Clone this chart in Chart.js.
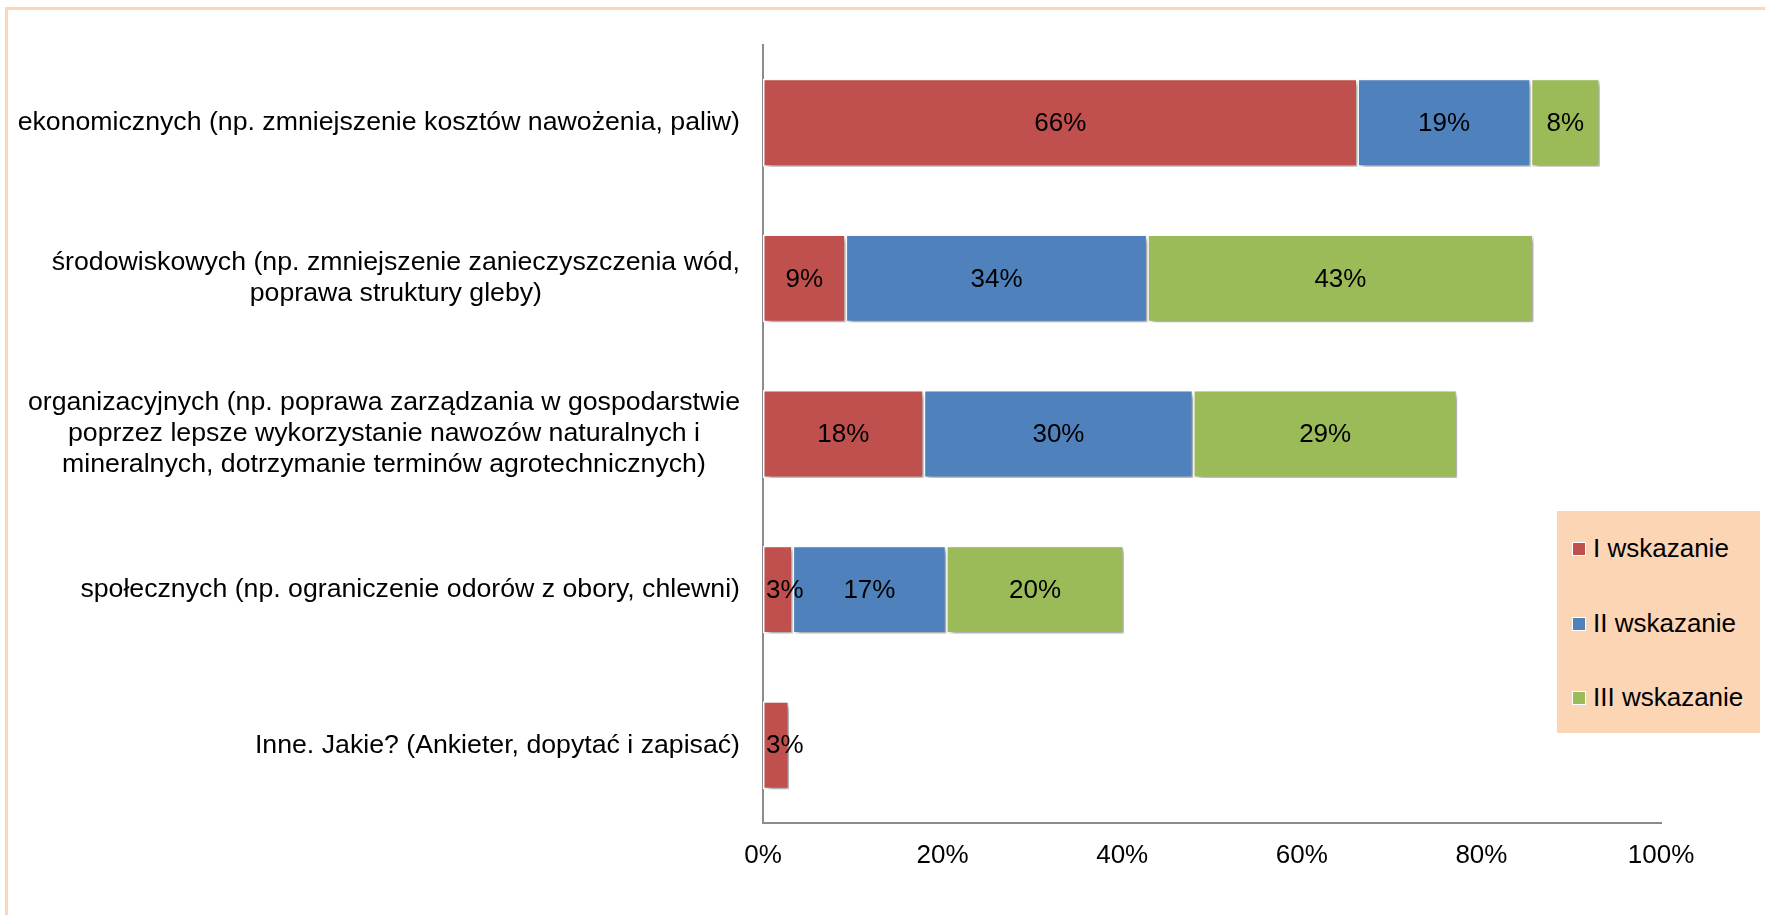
<!DOCTYPE html>
<html>
<head>
<meta charset="utf-8">
<script src="https://cdn.jsdelivr.net/npm/chart.js@4.4.1/dist/chart.umd.min.js"></script>
<style>
  html, body { margin: 0; padding: 0; background: #ffffff; }
  body { width: 1765px; height: 915px; overflow: hidden; position: relative; font-family: 'Liberation Sans', Arial, sans-serif; }
  #frame { position: absolute; left: 5px; top: 7px; width: 1800px; height: 1000px; border-left: 3px solid #fbd6ba; border-top: 3px solid #fbd6ba; }
  #wrap { position: absolute; left: 0; top: 0; width: 1765px; height: 915px; }
  #legend { position: absolute; left: 1557px; top: 511px; width: 203px; height: 222px; background: #fcd5b5; }
  #legend .item { position: absolute; left: 15px; height: 30px; line-height: 30px; font-size: 26px; color: #000; white-space: nowrap; }
  #legend .box { display: inline-block; width: 12px; height: 12px; border: 1px solid #fff; margin-right: 7px; vertical-align: 1px; }
</style>
</head>
<body>
<div id="frame"></div>
<div id="wrap"><canvas id="chart" width="1765" height="915"></canvas></div>
<div id="legend"></div>
<script>
const categories = [
  'ekonomicznych (np. zmniejszenie kosztów nawożenia, paliw)',
  ['środowiskowych (np. zmniejszenie zanieczyszczenia wód,', 'poprawa struktury gleby)'],
  ['organizacyjnych (np. poprawa zarządzania w gospodarstwie', 'poprzez lepsze wykorzystanie nawozów naturalnych i', 'mineralnych, dotrzymanie terminów agrotechnicznych)'],
  'społecznych (np. ograniczenie odorów z obory, chlewni)',
  'Inne. Jakie? (Ankieter, dopytać i zapisać)'
];

const seriesNames = ['I wskazanie', 'II wskazanie', 'III wskazanie'];
const seriesColors = ['#c0504d', '#4f81bd', '#9bbb59'];

const firstChoice = [66.2, 9.2, 17.9, 3.3, 2.9];
const secondChoice = [19.3, 33.6, 30.0, 17.1, null];
const thirdChoice = [7.7, 43.0, 29.4, 19.8, null];

const xTickLabels = ['0%', '20%', '40%', '60%', '80%', '100%'];

const FONT = "26px 'Liberation Sans', Arial, sans-serif";
const CAT_FONT = "26.7px 'Liberation Sans', Arial, sans-serif";

// drop shadow under the bars, like the Excel original
const barShadow = {
  id: 'barShadow',
  beforeDatasetsDraw(chart) {
    const ctx = chart.ctx;
    ctx.save();
    ctx.shadowColor = 'rgba(0,0,0,0.4)';
    ctx.shadowBlur = 5;
    ctx.shadowOffsetX = 3;
    ctx.shadowOffsetY = 3;
  },
  afterDatasetsDraw(chart) {
    chart.ctx.restore();
  }
};

const valueLabels = {
  id: 'valueLabels',
  afterDatasetsDraw(chart) {
    const ctx = chart.ctx;
    const left = chart.chartArea.left;
    ctx.save();
    ctx.font = FONT;
    ctx.fillStyle = '#000';
    ctx.textAlign = 'center';
    ctx.textBaseline = 'middle';
    chart.data.datasets.forEach((ds, di) => {
      chart.getDatasetMeta(di).data.forEach((bar, i) => {
        const v = ds.data[i];
        if (v == null) return;
        const text = Math.round(v) + '%';
        const w = ctx.measureText(text).width;
        const p = bar.getProps(['x', 'y', 'base'], true);
        const cx = Math.max((p.x + p.base) / 2, left + w / 2 + 3);
        ctx.fillText(text, cx, p.y + 1);
      });
    });
    ctx.restore();
  }
};

// category labels: block right aligned, lines centered inside the block
const categoryLabels = {
  id: 'categoryLabels',
  afterDraw(chart) {
    const ctx = chart.ctx;
    const yScale = chart.scales.y;
    const right = chart.chartArea.left - 23;
    const lineGap = 31;
    ctx.save();
    ctx.font = CAT_FONT;
    ctx.fillStyle = '#000';
    ctx.textAlign = 'center';
    ctx.textBaseline = 'middle';
    categories.forEach((label, i) => {
      const lines = [].concat(label);
      const w = Math.max(...lines.map(t => ctx.measureText(t).width));
      const cx = right - w / 2;
      const cy = yScale.getPixelForValue(i);
      lines.forEach((t, k) => {
        ctx.fillText(t, cx, cy + (k - (lines.length - 1) / 2) * lineGap);
      });
    });
    ctx.restore();
  }
};

const ctx = document.getElementById('chart').getContext('2d');
const chart = new Chart(ctx, {
  type: 'bar',
  data: {
    labels: categories,
    datasets: [firstChoice, secondChoice, thirdChoice].map((data, i) => ({
      label: seriesNames[i],
      data: data,
      backgroundColor: seriesColors[i],
      borderColor: '#ffffff',
      borderWidth: 1.5,
      borderSkipped: false,
      barPercentage: 0.565,
      categoryPercentage: 1
    }))
  },
  options: {
    indexAxis: 'y',
    responsive: false,
    animation: false,
    layout: { padding: { top: 45, right: 104, bottom: 0, left: 0 } },
    plugins: {
      legend: { display: false },
      tooltip: { enabled: false }
    },
    scales: {
      x: {
        stacked: true,
        min: 0,
        max: 100,
        grid: { display: false, drawTicks: false },
        border: { display: true, color: '#8c8c8c', width: 2 },
        ticks: {
          stepSize: 20,
          padding: 17,
          color: '#000',
          font: { family: "'Liberation Sans', Arial, sans-serif", size: 26 },
          callback: (v, i) => xTickLabels[i]
        },
        afterFit: s => { s.height = 92; }
      },
      y: {
        stacked: true,
        grid: { display: false, drawTicks: false },
        border: { display: true, color: '#8c8c8c', width: 2 },
        ticks: { display: false },
        afterFit: s => { s.width = 763; }
      }
    }
  },
  plugins: [barShadow, valueLabels, categoryLabels]
});

const legendEl = document.getElementById('legend');
seriesNames.forEach((name, i) => {
  const item = document.createElement('div');
  item.className = 'item';
  item.style.top = (22 + i * 74.5) + 'px';
  const box = document.createElement('span');
  box.className = 'box';
  box.style.background = seriesColors[i];
  item.appendChild(box);
  item.appendChild(document.createTextNode(name));
  legendEl.appendChild(item);
});
</script>
</body>
</html>
